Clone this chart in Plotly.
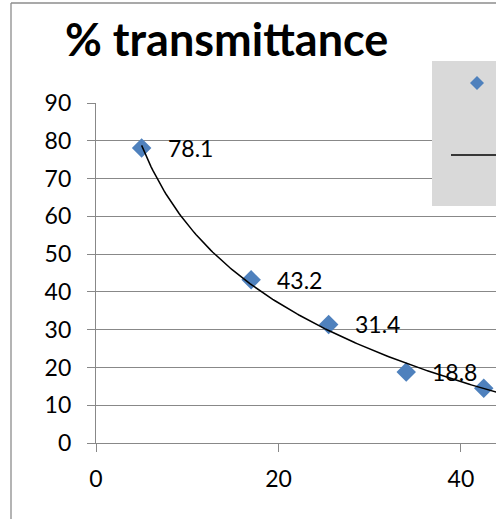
import numpy as np
import plotly.graph_objects as go

# ---- data ----
x_vals = [5, 17, 25.5, 34, 42.5]
y_vals = [78.1, 43.2, 31.4, 18.8, 14.5]
series_name = "% transmittance"
trend_name = "Log. (% transmittance)"
title_text = "% transmittance"
y_ticks = [0, 10, 20, 30, 40, 50, 60, 70, 80, 90]
x_ticks = [0, 20, 40]

W, H = 496, 519
L, T, B = 96, 103, 76
X_MAX = 43.84
FONT = "Lato"
BLUE = "#4F81BD"
GRID = "#888888"

# logarithmic trendline fitted to the data
coef = np.polyfit(np.log(x_vals), y_vals, 1)
tx = np.linspace(min(x_vals), X_MAX + 2, 200)
ty = coef[0] * np.log(tx) + coef[1]

fig = go.Figure()
fig.add_trace(go.Scatter(
    x=x_vals, y=y_vals, mode="markers", name=series_name,
    marker=dict(symbol="diamond", size=15, color=BLUE, line=dict(width=0)),
    showlegend=False, cliponaxis=False,
))
fig.add_trace(go.Scatter(
    x=tx, y=ty, mode="lines", name=trend_name,
    line=dict(color="black", width=1.5), showlegend=False,
))

for xv, yv in zip(x_vals, y_vals):
    fig.add_annotation(x=xv, y=yv, text=f"{yv}", showarrow=False,
                       xanchor="left", yanchor="middle", xshift=24,
                       font=dict(family=FONT, size=23, color="black"))

pw = W - L
ph = H - T - B
def px(xp):
    return (xp - L) / pw
def py(yp):
    return (H - B - yp) / ph

shapes = [
    # chart border (left and top visible)
    dict(type="line", xref="paper", yref="paper", x0=px(11), x1=px(11), y0=py(3), y1=py(530),
         line=dict(color="#8c8c8c", width=1.3)),
    dict(type="line", xref="paper", yref="paper", x0=px(11), x1=px(510), y0=py(3), y1=py(3),
         line=dict(color="#8c8c8c", width=1.3)),
    # legend box
    dict(type="rect", xref="paper", yref="paper", x0=px(432), x1=px(510), y0=py(206), y1=py(61),
         fillcolor="#D9D9D9", line=dict(width=0)),
    # legend marker
    dict(type="path", xref="paper", yref="paper",
         path=f"M {px(477)} {py(76)} L {px(484)} {py(83)} L {px(477)} {py(90)} L {px(470)} {py(83)} Z",
         fillcolor=BLUE, line=dict(width=0)),
    # legend line
    dict(type="line", xref="paper", yref="paper", x0=px(451), x1=px(510), y0=py(155), y1=py(155),
         line=dict(color="black", width=1.5)),
]

fig.update_layout(
    width=W, height=H,
    margin=dict(l=L, r=0, t=T, b=B),
    paper_bgcolor="white", plot_bgcolor="white",
    title=dict(text=f"<b>{title_text}</b>", x=65 / W, xanchor="left", xref="container",
               y=1 - 40 / H, yanchor="middle", yref="container",
               font=dict(family=FONT, size=45, color="black")),
    xaxis=dict(range=[0, X_MAX], tickvals=x_ticks, showgrid=False, zeroline=False,
               showline=True, linecolor=GRID, linewidth=1.3,
               ticks="outside", ticklen=8, tickcolor=GRID, tickwidth=1.3,
               ticklabelstandoff=7,
               tickfont=dict(family=FONT, size=23, color="black")),
    yaxis=dict(range=[0, 90], tickvals=y_ticks, showgrid=True, gridcolor=GRID, gridwidth=1.3,
               zeroline=False, showline=True, linecolor=GRID, linewidth=1.3,
               ticks="outside", ticklen=8, tickcolor=GRID, tickwidth=1.3,
               ticklabelstandoff=11,
               tickfont=dict(family=FONT, size=23, color="black")),
    shapes=shapes,
    showlegend=False,
)

fig.write_html("out.html", config={"displayModeBar": False},
               post_script="document.body.style.margin='0';")
